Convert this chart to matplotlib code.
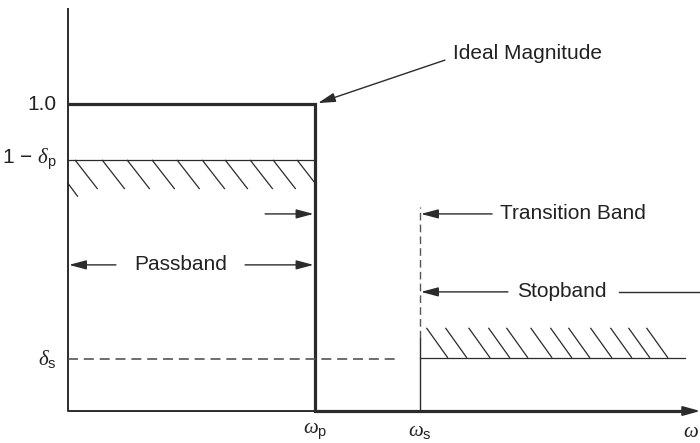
import numpy as np
import matplotlib
matplotlib.use("Agg")
import matplotlib.pyplot as plt
from matplotlib.patches import Rectangle
from matplotlib.collections import LineCollection

plt.rcParams['font.family'] = ['Liberation Sans', 'DejaVu Sans']
plt.rcParams['mathtext.fontset'] = 'custom'
plt.rcParams['mathtext.rm'] = 'Liberation Sans'
plt.rcParams['mathtext.it'] = 'Liberation Serif:italic'
plt.rcParams['mathtext.sf'] = 'Liberation Sans'

# ---- data (normalized frequency, magnitude) ----
omega_p = 1.0
omega_s = 1.425
omega_max = 2.56
mag_ideal = 1.0
one_minus_dp = 0.818
delta_s = 0.168
stop_line_level = 0.173
stop_line_end = 2.498
delta_s_dash_end = 1.324
y_axis_top = 1.313

# hatch tick start positions (tops) for passband tolerance
pass_hatch_tops = [0.028, 0.138, 0.239, 0.340, 0.441, 0.543, 0.636, 0.737, 0.830, 0.927]
pass_hatch_partial = -0.07
# hatch tick bottom positions for stopband tolerance
stop_hatch_bottoms = [1.538, 1.615, 1.709, 1.789, 1.862, 1.960, 2.040, 2.113, 2.202, 2.283, 2.356, 2.429]

tick_labels_y = ['1.0', '1 \u2212 $\\delta_{\\mathrm{p}}$', '$\\delta_{\\mathrm{s}}$']
tick_values_y = [mag_ideal, one_minus_dp, delta_s]
tick_labels_x = ['$\\omega_{\\mathrm{p}}$', '$\\omega_{\\mathrm{s}}$']
tick_values_x = [omega_p, omega_s]

DARK = '#2b2b2b'
TXT = '#222222'
FS = 15

fig = plt.figure(figsize=(7.0, 4.43), dpi=100)
ax = fig.add_axes([0, 0, 1, 1])
ax.set_xlim(-0.2753, 2.5587)
ax.set_ylim(-0.1042, 1.3388)
ax.axis('off')

# axes lines
ax.plot([0, 0], [0, y_axis_top], color=DARK, lw=1.4, solid_capstyle='butt')
ax.annotate('', xy=(omega_max, 0), xytext=(0, 0),
            arrowprops=dict(arrowstyle='-|>,head_length=0.8,head_width=0.22',
                            color=DARK, lw=1.4, mutation_scale=13,
                            shrinkA=0, shrinkB=0))

# ideal magnitude
ax.plot([0, omega_p, omega_p, 2.50], [mag_ideal, mag_ideal, 0, 0],
        color=DARK, lw=2.3, solid_joinstyle='miter', solid_capstyle='butt')

# passband tolerance line and hatch
ax.plot([0, omega_p], [one_minus_dp, one_minus_dp], color=DARK, lw=0.9)
dxp, dyp = 0.092, 0.095
segs = [[(t, one_minus_dp), (t + dxp, one_minus_dp - dyp)] for t in pass_hatch_tops]
segs.append([(pass_hatch_partial, one_minus_dp), (pass_hatch_partial + 0.11, one_minus_dp - 0.12)])
lc = LineCollection(segs, colors=DARK, linewidths=0.9)
ax.add_collection(lc)
clip = Rectangle((0, 0), omega_p, 1.0, transform=ax.transData, visible=False)
ax.add_patch(clip)
lc.set_clip_path(clip)

# stopband tolerance line and hatch
ax.plot([omega_s, stop_line_end], [stop_line_level, stop_line_level], color=DARK, lw=0.9)
dxs, dys = 0.087, 0.098
segs2 = [[(b - dxs, stop_line_level + dys), (b, stop_line_level)] for b in stop_hatch_bottoms]
ax.add_collection(LineCollection(segs2, colors=DARK, linewidths=0.9))

# delta_s dashed line
ax.plot([0, delta_s_dash_end], [delta_s, delta_s], color='#555555', lw=1.2,
        linestyle=(0, (6, 3.5)))

# omega_s vertical: solid lower, dashed upper
ax.plot([omega_s, omega_s], [0, 0.238], color=DARK, lw=1.0)
ax.plot([omega_s, omega_s], [0.238, 0.664], color='#555555', lw=1.0,
        linestyle=(0, (5.5, 3)))

arrow_kw = dict(arrowstyle='-|>,head_length=0.75,head_width=0.2',
                color=DARK, lw=1.0, mutation_scale=14, shrinkA=0, shrinkB=0)

# Ideal Magnitude
ax.text(1.559, 1.166, 'Ideal Magnitude', fontsize=FS, color=TXT, ha='left', va='center')
ax.annotate('', xy=(1.012, 1.003), xytext=(1.526, 1.143), arrowprops=arrow_kw)

# Transition Band
ax.text(1.749, 0.642, 'Transition Band', fontsize=FS, color=TXT, ha='left', va='center')
ax.annotate('', xy=(omega_s + 0.004, 0.642), xytext=(1.717, 0.642), arrowprops=arrow_kw)
ax.annotate('', xy=(omega_p - 0.006, 0.642), xytext=(0.798, 0.642), arrowprops=arrow_kw)

# Stopband
ax.text(1.818, 0.388, 'Stopband', fontsize=FS, color=TXT, ha='left', va='center')
ax.annotate('', xy=(omega_s + 0.004, 0.388), xytext=(1.781, 0.388), arrowprops=arrow_kw)
ax.plot([2.231, omega_max], [0.388, 0.388], color=DARK, lw=1.0)

# Passband
ax.text(0.455, 0.476, 'Passband', fontsize=FS, color=TXT, ha='center', va='center')
ax.annotate('', xy=(0.004, 0.476), xytext=(0.194, 0.476), arrowprops=arrow_kw)
ax.annotate('', xy=(omega_p - 0.006, 0.476), xytext=(0.717, 0.476), arrowprops=arrow_kw)

# y tick labels
for v, lab in zip(tick_values_y, tick_labels_y):
    ax.text(-0.045, v, lab, fontsize=FS, color=TXT, ha='right', va='center')

# x tick labels
for v, lab in zip(tick_values_x, tick_labels_x):
    ax.text(v, -0.068, lab, fontsize=FS, color=TXT, ha='center', va='center')
ax.text(2.552, -0.068, '$\\omega$', fontsize=FS, color=TXT, ha='right', va='center')

fig.savefig('out.png', dpi=100)
